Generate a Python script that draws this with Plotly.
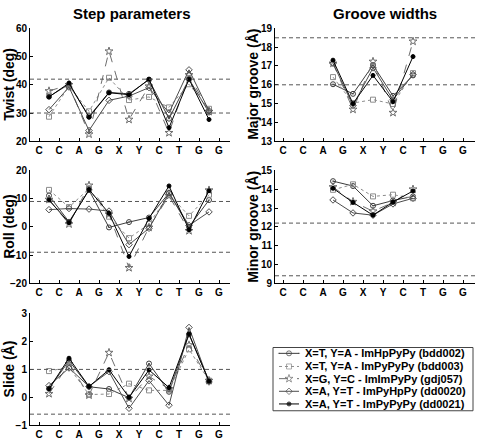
import plotly.graph_objects as go

W, H = 478, 444
FONT = "Liberation Sans"

# ---------------- data ----------------
bases = ["C", "C", "A", "G", "X", "Y", "C", "T", "G", "G"]
series_names = [
    "X=T, Y=A - ImHpPyPy (bdd002)",
    "X=T, Y=A - ImPyPyPy (bdd003)",
    "X=G, Y=C - ImImPyPy (gdj057)",
    "X=A, Y=T - ImPyHpPy (dd0020)",
    "X=A, Y=T - ImPyPyPy (dd0021)",
]

# step parameters (9 steps, between bases)
twist_bdd002 = [35.8, 40.2, 28.8, 37.3, 36.8, 41.8, 28.0, 42.0, 30.2]
twist_bdd003 = [28.7, 39.5, 30.6, 42.5, 34.6, 35.7, 32.0, 40.2, 31.5]
twist_gdj057 = [37.8, 40.0, 22.5, 51.9, 27.7, 39.5, 23.0, 43.5, 30.5]
twist_dd0020 = [31.2, 39.2, 23.8, 34.5, 36.0, 39.0, 30.0, 45.3, 30.8]
twist_dd0021 = [35.7, 40.6, 28.5, 37.2, 36.5, 42.0, 24.8, 42.0, 27.7]

roll_bdd002 = [11.1, 1.8, 13.0, -0.2, 1.7, 3.3, 12.0, 0.0, 9.5]
roll_bdd003 = [13.1, 7.0, 13.5, 3.6, -4.0, 1.0, 11.5, 3.9, 11.4]
roll_gdj057 = [9.7, 1.0, 14.7, 4.5, -14.5, -0.2, 11.0, -1.4, 13.0]
roll_dd0020 = [6.1, 6.5, 6.3, 5.6, -6.3, -0.5, 12.0, 0.5, 5.3]
roll_dd0021 = [9.5, 1.5, 13.2, 4.8, -10.5, 3.0, 14.5, -1.0, 12.8]

slide_bdd002 = [0.31, 1.31, 0.38, 0.30, -0.01, 1.21, 0.20, 2.25, 0.58]
slide_bdd003 = [0.94, 1.08, 0.10, 0.12, 0.49, 0.25, 0.25, 1.72, 0.60]
slide_gdj057 = [0.13, 1.20, 0.08, 1.60, -0.04, 0.75, 0.30, 1.87, 0.60]
slide_dd0020 = [0.42, 1.05, 0.39, 0.92, -0.39, 0.60, -0.28, 2.50, 0.55]
slide_dd0021 = [0.31, 1.40, 0.39, 0.99, 0.00, 0.98, 0.35, 2.27, 0.58]

# groove widths (5 steps, A-G .. C-T)
major_bdd002 = [16.03, 15.52, 17.05, 15.41, 16.50]
major_bdd003 = [16.41, 15.03, 15.21, 14.98, 16.62]
major_gdj057 = [17.14, 14.69, 17.24, 14.52, 18.31]
major_dd0020 = [17.14, 14.90, 16.90, 15.20, 16.55]
major_dd0021 = [17.31, 15.00, 16.50, 15.10, 17.50]

minor_bdd002 = [14.43, 14.17, 13.12, 13.40, 13.62]
minor_bdd003 = [13.97, 14.26, 13.62, 13.71, 13.52]
minor_gdj057 = [14.12, 13.34, 12.83, 13.30, 14.00]
minor_dd0020 = [13.43, 12.74, 12.62, 13.22, 13.52]
minor_dd0021 = [14.05, 13.30, 12.62, 13.32, 13.91]

# reference ranges (dashed lines)
twist_ref = [30, 42]
roll_ref = [-9, 9]
slide_ref = [-0.6, 1.0]
major_ref = [16.0, 18.5]
minor_ref = [9.4, 12.2]

twist_ticks = [20, 30, 40, 50, 60]
roll_ticks = [-20, -10, 0, 10, 20]
slide_ticks = [-1, 0, 1, 2, 3]
major_ticks = [13, 14, 15, 16, 17, 18, 19]
minor_ticks = [9, 10, 11, 12, 13, 14, 15]

step_x = [i + 0.5 for i in range(9)]
groove_x = [i + 0.5 for i in range(2, 7)]

# ---------------- styles ----------------
styles = [
    dict(color="#3c3c3c", dash="solid", symbol="circle-open-dot", size=5),
    dict(color="#8c8c8c", dash="dot", symbol="square-open", size=5),
    dict(color="#6e6e6e", dash="dash", symbol="star-open", size=6),
    dict(color="#4c4c4c", dash="solid", symbol="diamond-open", size=5),
    dict(color="#000000", dash="solid", symbol="circle", size=4),
]


def px_x(p):
    return p / W


def px_y(p):
    return 1 - p / H


panels = [
    dict(data=[twist_bdd002, twist_bdd003, twist_gdj057, twist_dd0020, twist_dd0021],
         xs=step_x, xd=(30, 230), yd=(23, 139), yr=(20, 60), yt=twist_ticks,
         ref=twist_ref, xr=(-0.45, 9.55), title="Twist (deg)", tx=9),
    dict(data=[major_bdd002, major_bdd003, major_gdj057, major_dd0020, major_dd0021],
         xs=groove_x, xd=(275, 475), yd=(23, 139), yr=(13, 19), yt=major_ticks,
         ref=major_ref, xr=(-0.4, 9.6), title="Major groove (Å)", tx=253),
    dict(data=[roll_bdd002, roll_bdd003, roll_gdj057, roll_dd0020, roll_dd0021],
         xs=step_x, xd=(30, 230), yd=(169, 285), yr=(-20, 20), yt=roll_ticks,
         ref=roll_ref, xr=(-0.45, 9.55), title="Roll (deg)", tx=9),
    dict(data=[minor_bdd002, minor_bdd003, minor_gdj057, minor_dd0020, minor_dd0021],
         xs=groove_x, xd=(275, 475), yd=(169, 285), yr=(9, 15), yt=minor_ticks,
         ref=minor_ref, xr=(-0.4, 9.6), title="Minor groove (Å)", tx=253),
    dict(data=[slide_bdd002, slide_bdd003, slide_gdj057, slide_dd0020, slide_dd0021],
         xs=step_x, xd=(30, 230), yd=(316, 431), yr=(-1, 3), yt=slide_ticks,
         ref=slide_ref, xr=(-0.45, 9.55), title="Slide (Å)", tx=9),
]

fig = go.Figure()
layout = dict(
    width=W, height=H, margin=dict(l=0, r=0, t=0, b=0),
    paper_bgcolor="white", plot_bgcolor="white", showlegend=False,
    font=dict(family=FONT, color="black"),
)
shapes = []
annotations = []
tickfont = dict(family=FONT, size=10, color="black", weight="bold")

for i, p in enumerate(panels, start=1):
    sfx = "" if i == 1 else str(i)
    xa, ya = "x" + sfx, "y" + sfx
    layout["xaxis" + sfx] = dict(
        domain=[px_x(p["xd"][0]), px_x(p["xd"][1])], range=list(p["xr"]),
        tickvals=list(range(len(bases))), ticktext=bases, anchor=ya,
        showline=True, linecolor="black", linewidth=1, ticks="inside",
        ticklen=3, tickcolor="black", showgrid=False, zeroline=False,
        tickfont=tickfont, fixedrange=True,
    )
    layout["yaxis" + sfx] = dict(
        domain=[px_y(p["yd"][1]), px_y(p["yd"][0])], range=list(p["yr"]),
        tickvals=p["yt"], anchor=xa,
        showline=True, linecolor="black", linewidth=1, ticks="inside",
        ticklen=3, tickcolor="black", showgrid=False, zeroline=False,
        tickfont=tickfont, fixedrange=True,
    )
    for yv in p["ref"]:
        shapes.append(dict(type="line", xref=xa + " domain", yref=ya,
                           x0=0, x1=1, y0=yv, y1=yv,
                           line=dict(color="#555555", width=1, dash="4px,3px")))
    for vals, st in zip(p["data"], styles):
        fig.add_trace(go.Scatter(
            x=p["xs"], y=vals, xaxis=xa, yaxis=ya, mode="lines+markers",
            line=dict(color=st["color"], width=1, dash=st["dash"]),
            marker=dict(symbol=st["symbol"], size=st["size"], color=st["color"],
                        line=dict(width=1, color=st["color"])),
            hoverinfo="skip",
        ))
    ymid = (p["yd"][0] + p["yd"][1]) / 2
    annotations.append(dict(text=p["title"], x=px_x(p["tx"]), y=px_y(ymid),
                            xref="paper", yref="paper", showarrow=False,
                            textangle=-90, xanchor="center", yanchor="middle",
                            font=dict(family=FONT, size=14, color="black", weight="bold")))

# column titles
annotations.append(dict(text="Step parameters", x=px_x(132), y=px_y(8), xref="paper",
                        yref="paper", showarrow=False, xanchor="center", yanchor="middle",
                        font=dict(family=FONT, size=15, color="black", weight="bold")))
annotations.append(dict(text="Groove widths", x=px_x(385), y=px_y(8), xref="paper",
                        yref="paper", showarrow=False, xanchor="center", yanchor="middle",
                        font=dict(family=FONT, size=15, color="black", weight="bold")))

# ---------------- custom legend ----------------
LX0, LX1, LY0, LY1 = 273, 473, 351, 416
shapes.append(dict(type="rect", xref="paper", yref="paper",
                   x0=px_x(LX0), x1=px_x(LX1), y0=px_y(LY1), y1=px_y(LY0),
                   line=dict(color="#444444", width=1), fillcolor="white", layer="below"))
layout["xaxis6"] = dict(domain=[px_x(LX0), px_x(LX1)], range=[0, LX1 - LX0], visible=False,
                        anchor="y6", fixedrange=True)
layout["yaxis6"] = dict(domain=[px_y(LY1), px_y(LY0)], range=[LY1 - LY0, 0], visible=False,
                        anchor="x6", fixedrange=True)
row_y = [6, 19.5, 32, 45, 58]
for name, st, ry in zip(series_names, styles, row_y):
    fig.add_trace(go.Scatter(
        x=[6, 16, 26], y=[ry, ry, ry], xaxis="x6", yaxis="y6", mode="lines+markers",
        line=dict(color=st["color"], width=1, dash=st["dash"]),
        marker=dict(symbol=st["symbol"], size=[0, st["size"], 0], color=st["color"],
                    line=dict(width=1, color=st["color"])),
        hoverinfo="skip",
    ))
    annotations.append(dict(text=name, x=px_x(LX0 + 30), y=px_y(LY0 + ry), xref="paper",
                            yref="paper", showarrow=False, xanchor="left", yanchor="middle",
                            font=dict(family=FONT, size=11, color="black", weight="bold")))

layout["shapes"] = shapes
layout["annotations"] = annotations
fig.update_layout(**layout)
fig.write_html(
    "out.html",
    config={"displayModeBar": False},
    post_script=(
        "document.body.style.margin='0';"
        "var gd=document.getElementById('{plot_id}');"
        "gd.style.position='absolute';gd.style.left='0px';gd.style.top='0px';"
    ),
)
